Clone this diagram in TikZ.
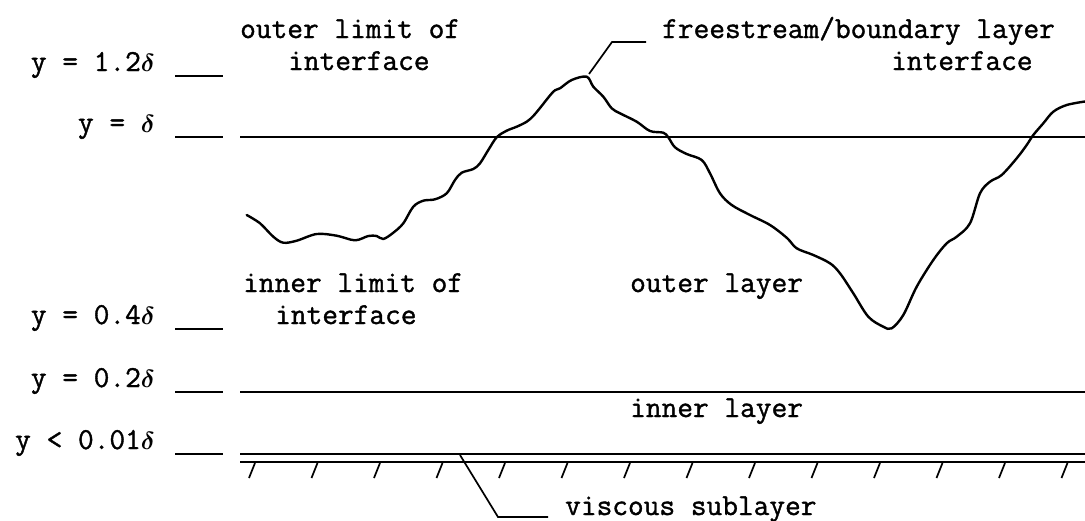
\documentclass[tikz,border=0pt]{standalone}
\usepackage{fontspec}
\setmonofont{Latin Modern Mono}[FakeBold=1.2, WordSpace={1,0,0}]
\newcommand{\dlt}{{\boldmath$\delta$}}
\begin{document}
\begin{tikzpicture}[x=1pt,y=-1pt,
  every node/.style={inner sep=0pt, font=\ttfamily\fontsize{30.5}{36}\selectfont},
  lbl/.style={anchor=base west},
  lft/.style={anchor=base east},
  rule/.style={line width=1.7pt},
  curveline/.style={line width=2.4pt, line join=round, line cap=round},
  hatchline/.style={line width=1.7pt}]
\useasboundingbox (0,0) rectangle (1085,520);
% left labels
\node[lft] (l12) at (155,71) {y = 1.2\dlt};
\node[lft] (l1) at (155,132) {y = \dlt};
\node[lft] (l04) at (155,324) {y = 0.4\dlt};
\node[lft] (l02) at (155,387) {y = 0.2\dlt};
\node[lft] (l001) at (155,449) {y < 0.01\dlt};
% short marks
\draw[rule] (175,76) -- (223,76);
\draw[rule] (175,137) -- (223,137);
\draw[rule] (175,329) -- (223,329);
\draw[rule] (175,392) -- (223,392);
\draw[rule] (175,454) -- (223,454);
% long lines
\draw[rule] (240,137) -- (1085,137);
\draw[rule] (240,392) -- (1085,392);
\draw[rule] (240,454) -- (1085,454);
\draw[rule] (240,462) -- (1085,462);
% hatches
\foreach \hx in {255,317.5,380,442.5,505,567.5,630,692.5,755,817.5,880,942.5,1005,1067.5}
  \draw[hatchline] (\hx,463) -- (\hx-6,478);
% texts
\node[lbl] (olim) at (240,38) {outer limit of};
\node[lbl] (oint) at (288,70) {interface};
\node[lbl] (fs) at (662,38) {freestream/boundary layer};
\node[lbl] (fsint) at (891,70) {interface};
\node[lbl] (ilim) at (243,292) {inner limit of};
\node[lbl] (iint) at (275,324) {interface};
\node[lbl] (olay) at (630,292) {outer layer};
\node[lbl] (ilay) at (630,417) {inner layer};
\node[lbl] (vs) at (565,515) {viscous sublayer};
% interface curve
\draw[curveline] plot[smooth, tension=0.55] coordinates {
 (246.7,215) (260,223.3) (273.3,236.7) (283.3,242.7) (296.7,240.7) (316.7,234)
 (336.7,235.7) (355,240.3) (368.3,236) (376.7,236) (383.3,239) (393.3,232.7)
 (403.3,223.3) (413.3,206.7) (423.3,200.7) (435,199.3) (446.7,193.3) (455,180)
 (461.7,172.7) (473.3,169) (480,163.3) (488.3,150) (496.7,137.3) (506.7,130.7)
 (516.7,126.7) (526.7,121.7) (533.3,116) (540,108) (553.3,91.7) (560,88.3)
 (571.7,80) (586.7,76.7) (593.3,86.7) (603.3,96.7) (611.7,108.3) (620,113.3)
 (636.7,121.7) (650,131) (663.3,132.7) (668.3,137.3) (675,147.3) (686.7,154)
 (701.7,160) (710,173.3) (720,193.3) (731.7,205) (750,215) (770,225)
 (787,238) (796.7,248.3) (813.3,255) (830,263.3) (840,273.3) (853.3,293.3)
 (868.3,316.7) (883.3,326.7) (891.7,328.3) (903.3,315) (916.7,286.7) (933.3,260)
 (946.7,243.3) (956.7,236.7) (970,223.3) (980,193.3) (990,181.7) (1001.7,175)
 (1016.7,158.3) (1026.7,145) (1033.3,135) (1043.3,123.3) (1053.3,111.7)
 (1066.7,105) (1085,101.5)};
% leaders
\coordinate (peak) at (589,74);
\coordinate (pk1) at (612,42);
\coordinate (pk2) at (646,42);
\draw[rule] (peak) -- (pk1) -- (pk2);
\coordinate (wallpt) at (460,455);
\coordinate (vs1) at (498,517);
\coordinate (vs2) at (548,517);
\draw[rule] (wallpt) -- (vs1) -- (vs2);
\end{tikzpicture}
\end{document}
